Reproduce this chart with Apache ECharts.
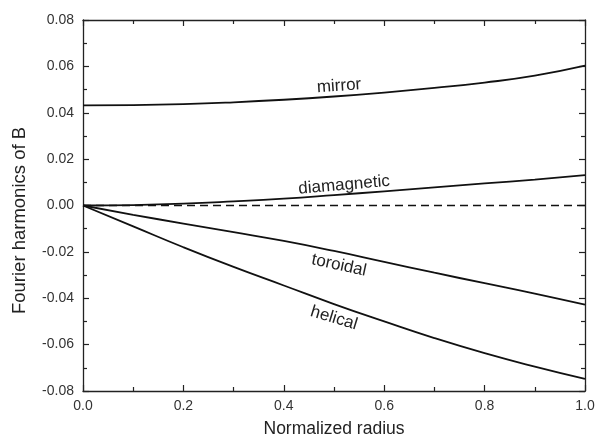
<!DOCTYPE html>
<html>
<head>
<meta charset="utf-8">
<script src="https://cdn.jsdelivr.net/npm/echarts@6/dist/echarts.min.js"></script>
<style>html,body{margin:0;padding:0;background:#fff;}#c{width:601px;height:443px;}</style>
</head>
<body>
<div id="c"></div>
<script>
var radius = [0, 0.1, 0.2, 0.3, 0.4, 0.5, 0.6, 0.7, 0.8, 0.9, 1.0];
var mirror = [0.0432, 0.0433, 0.0437, 0.0445, 0.0456, 0.0470, 0.0487, 0.0507, 0.0530, 0.0560, 0.0603];
var diamagnetic = [0, 0.0002, 0.0008, 0.0018, 0.0030, 0.0045, 0.0061, 0.0078, 0.0095, 0.0112, 0.0131];
var toroidal = [0, -0.0040, -0.0078, -0.0115, -0.0153, -0.0196, -0.0243, -0.0290, -0.0335, -0.0380, -0.0428];
var helical = [0, -0.0090, -0.0180, -0.0265, -0.0345, -0.0425, -0.0500, -0.0572, -0.0637, -0.0695, -0.0748];
var zeroLine = [0, 0, 0, 0, 0, 0, 0, 0, 0, 0, 0];
var curveLabels = [
  {text: 'mirror', x: 0.51, y: 0.0515, rot: 4},
  {text: 'diamagnetic', x: 0.52, y: 0.0088, rot: 5},
  {text: 'toroidal', x: 0.51, y: -0.0258, rot: -12},
  {text: 'helical', x: 0.50, y: -0.0486, rot: -17}
];

function pairs(xs, ys) { return xs.map(function (x, i) { return [x, ys[i]]; }); }

var font = 'Liberation Sans, Arial, sans-serif';
var chart = echarts.init(document.getElementById('c'), null, {renderer: 'canvas'});
var axisCommon = {
  axisLine: {show: true, onZero: false, lineStyle: {color: '#222', width: 1.3}},
  axisTick: {show: true, inside: true, length: 6, lineStyle: {color: '#222', width: 1.2}},
  minorTick: {show: true, splitNumber: 2, length: 4, lineStyle: {color: '#222', width: 1.2}},
  splitLine: {show: false}
};
function lineSeries(name, data, dashed) {
  return {
    name: name, type: 'line', xAxisIndex: 0, yAxisIndex: 0,
    data: pairs(radius, data), smooth: !dashed, showSymbol: false, symbol: 'none',
    lineStyle: {color: '#111', width: dashed ? 1.6 : 1.8, type: dashed ? [8, 5] : 'solid'},
    silent: true, animation: false
  };
}
var option = {
  animation: false,
  backgroundColor: '#fff',
  grid: {left: 83, right: 16, top: 20, bottom: 49},
  xAxis: [
    Object.assign({}, axisCommon, {
      type: 'value', min: 0, max: 1, interval: 0.2, position: 'bottom',
      name: 'Normalized radius', nameLocation: 'middle', nameGap: 29,
      nameTextStyle: {fontFamily: font, fontSize: 17.5, color: '#222'},
      axisLabel: {fontFamily: font, fontSize: 14, color: '#333', margin: 8,
        formatter: function (v) { return v.toFixed(1); }}
    }),
    Object.assign({}, axisCommon, {
      type: 'value', min: 0, max: 1, interval: 0.2, position: 'top',
      axisLabel: {show: false}
    })
  ],
  yAxis: [
    Object.assign({}, axisCommon, {
      type: 'value', min: -0.08, max: 0.08, interval: 0.02, position: 'left',
      name: 'Fourier harmonics of B', nameLocation: 'middle', nameGap: 54,
      nameTextStyle: {fontFamily: font, fontSize: 18.5, color: '#222', padding: [0, 30, 0, 0]},
      axisLabel: {fontFamily: font, fontSize: 14, color: '#333', margin: 9,
        formatter: function (v) { return v.toFixed(2); }}
    }),
    Object.assign({}, axisCommon, {
      type: 'value', min: -0.08, max: 0.08, interval: 0.02, position: 'right',
      axisLabel: {show: false}
    })
  ],
  series: [
    lineSeries('mirror', mirror, false),
    lineSeries('diamagnetic', diamagnetic, false),
    lineSeries('toroidal', toroidal, false),
    lineSeries('helical', helical, false),
    lineSeries('zero', zeroLine, true)
  ]
};
chart.setOption(option);
var g = curveLabels.map(function (l) {
  var p = chart.convertToPixel({xAxisIndex: 0, yAxisIndex: 0}, [l.x, l.y]);
  return {
    type: 'text', x: p[0], y: p[1], rotation: l.rot * Math.PI / 180,
    style: {text: l.text, fontFamily: font, fontSize: 17, fill: '#222', align: 'center', verticalAlign: 'middle'}
  };
});
chart.setOption({graphic: g});
</script>
</body>
</html>
